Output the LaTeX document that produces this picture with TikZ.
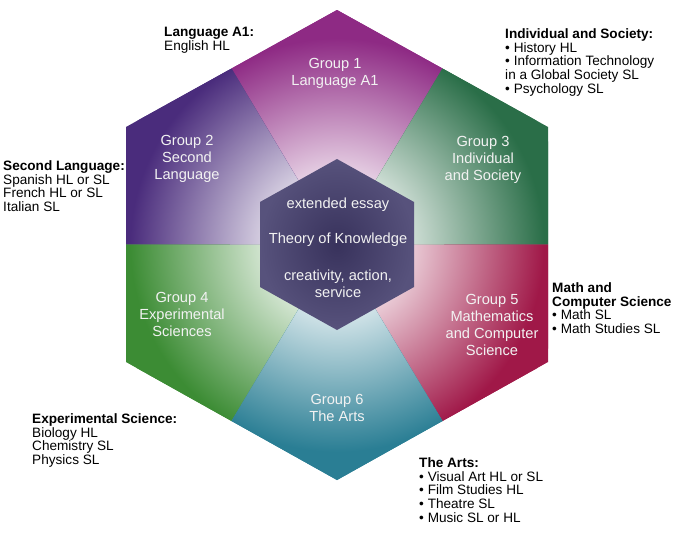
\documentclass[tikz,border=0pt]{standalone}
\usepackage{fontspec}
\setmainfont{Liberation Sans}
\definecolor{grpone}{HTML}{8E2A84}
\definecolor{grptwo}{HTML}{4A2C7C}
\definecolor{grpthree}{HTML}{2A6E48}
\definecolor{grpfour}{HTML}{3C8C34}
\definecolor{grpfive}{HTML}{A01848}
\definecolor{grpsix}{HTML}{2A7E94}
\definecolor{coreout}{HTML}{57527C}
\definecolor{corein}{HTML}{38325C}
\colorlet{sectcol}{grpone}
\pgfdeclareradialshading[sectcol]{sect}{\pgfpoint{0bp}{0bp}}{color(0bp)=(white);
    color(7bp)=(sectcol!18!white); color(22bp)=(sectcol); color(50bp)=(sectcol)}
\begin{document}
\begin{tikzpicture}[x=0.3mm,y=-0.3mm,
        info/.style={anchor=north west,align=left,inner sep=0pt,font=\fontsize{11.6}{11.9}\selectfont},
        group/.style={align=center,inner sep=0pt,text=white!90!gray,font=\fontsize{12.5}{14.5}\selectfont},
        core/.style={align=center,inner sep=0pt,text=white!90!gray,font=\fontsize{12.5}{14.5}\selectfont}]
    \useasboundingbox (0,0) rectangle (679,541);
    % outer hexagon
    \coordinate (c) at (337,245);
    \coordinate (t) at (337,10);
    \coordinate (ul) at (126,127);
    \coordinate (ur) at (548,127);
    \coordinate (ll) at (126,362);
    \coordinate (lr) at (548,362);
    \coordinate (b) at (337,480);
    \coordinate (mtl) at (231.5,68.5);
    \coordinate (mtr) at (442.5,68.5);
    \coordinate (ml) at (126,244.5);
    \coordinate (mr) at (548,244.5);
    \coordinate (mbl) at (231.5,421);
    \coordinate (mbr) at (442.5,421);
    \foreach \p/\v/\q/\col in {mtl/t/mtr/grpone, ml/ul/mtl/grptwo, mtr/ur/mr/grpthree,
            ml/ll/mbl/grpfour, mr/lr/mbr/grpfive, mbl/b/mbr/grpsix}{
        \fill[\col] (c) -- (\p) -- (\v) -- (\q) -- cycle;
        \colorlet{sectcol}{\col}
        \begin{scope}
            \clip (c) -- (\p) -- (\v) -- (\q) -- cycle;
            \shade[shading=sect] (c) circle [radius=235];
        \end{scope}
    }
    % core
    \shade[inner color=corein, outer color=coreout] (337,159) -- (414,202) -- (414,287)
        -- (337,330) -- (260,287) -- (260,202) -- cycle;
    \node[core] (essay) at (338,205) {extended essay};
    \node[core] (tok) at (338,240) {Theory of Knowledge};
    \node[core] (cas) at (338,284) {creativity, action,\\service};
    % groups
    \node[group] (g1) at (335,73) {Group 1\\Language A1};
    \node[group] (g2) at (187,159) {Group 2\\Second\\Language};
    \node[group] (g3) at (483,160) {Group 3\\Individual\\and Society};
    \node[group] (g4) at (182,314) {Group 4\\Experimental\\Sciences};
    \node[group] (g5) at (492,325) {Group 5\\Mathematics\\and Computer\\Science};
    \node[group] (g6) at (337,408) {Group 6\\The Arts};
    % subjects
    \node[info] (langa) at (164,27) {\textbf{Language A1:}\\English HL};
    \node[info] (secl) at (3,160) {\textbf{Second Language:}\\Spanish HL or SL\\French HL or SL\\Italian SL};
    \node[info] (indiv) at (505,28) {\textbf{Individual and Society:}\\• History HL\\• Information Technology\\in a Global Society SL\\• Psychology SL};
    \node[info] (math) at (552,282) {\textbf{Math and}\\\textbf{Computer Science}\\• Math SL\\• Math Studies SL};
    \node[info] (expsci) at (32,413) {\textbf{Experimental Science:}\\Biology HL\\Chemistry SL\\Physics SL};
    \node[info] (arts) at (419,457) {\textbf{The Arts:}\\• Visual Art HL or SL\\• Film Studies HL\\• Theatre SL\\• Music SL or HL};
\end{tikzpicture}
\end{document}
